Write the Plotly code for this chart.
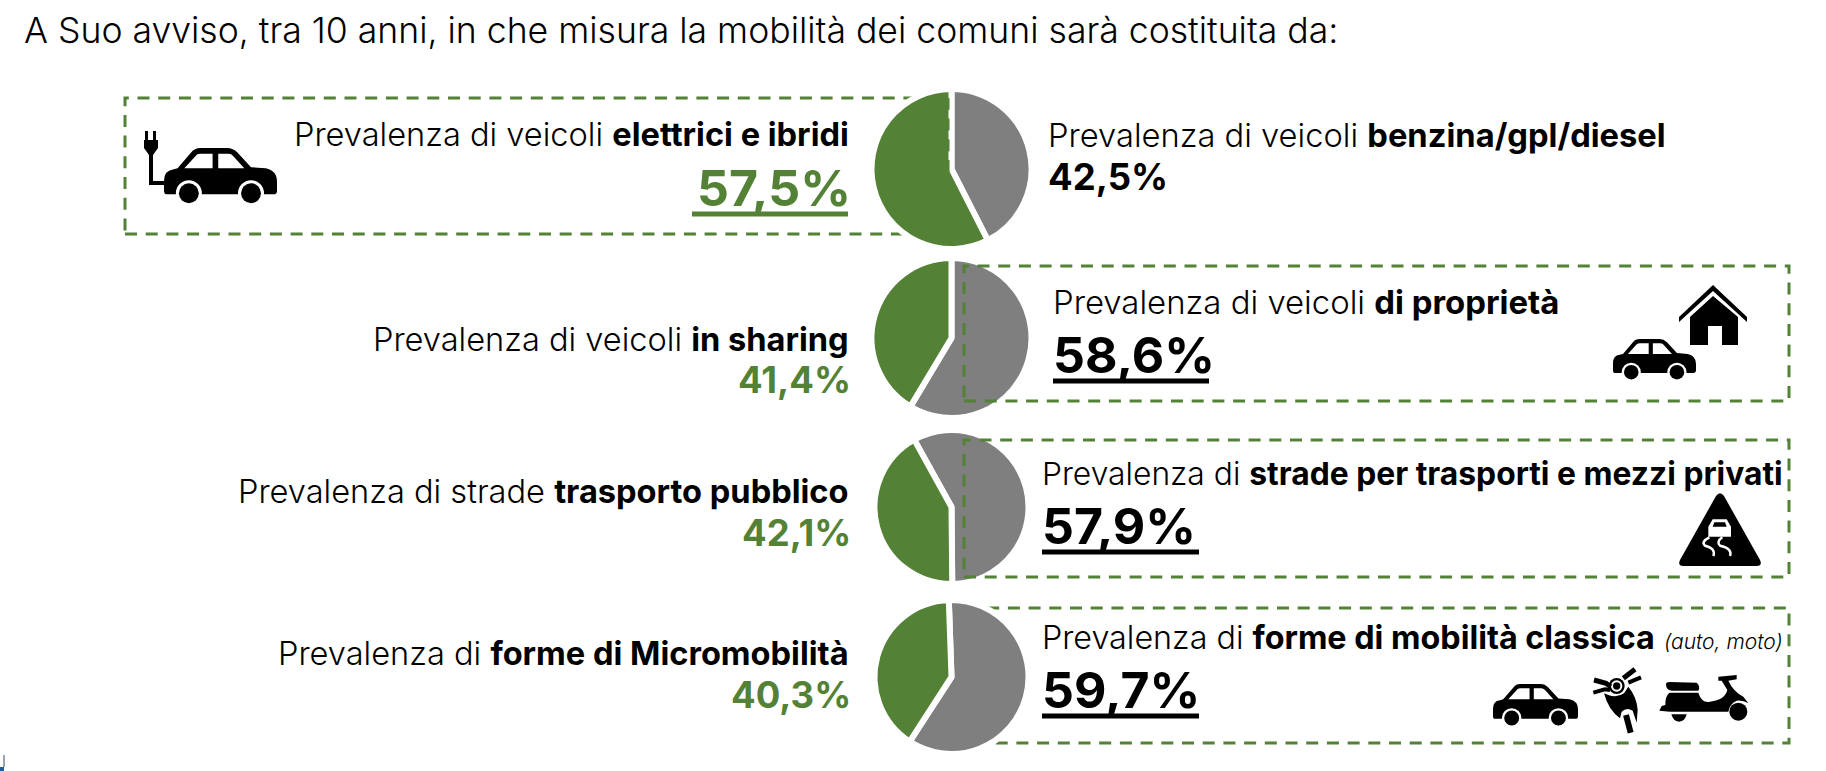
import re
import plotly.graph_objects as go

W, H = 1826, 771
FONT = "Inter"
GREEN = "#538135"
GRAY = "#7F7F7F"

# ---- data ----
green_values = [57.5, 41.4, 42.1, 40.3]
gray_values = [42.5, 58.6, 57.9, 59.7]
left_plain = ["Prevalenza di veicoli ", "Prevalenza di veicoli ", "Prevalenza di strade ", "Prevalenza di "]
left_bold = ["elettrici e ibridi", "in sharing", "trasporto pubblico", "forme di Micromobilità"]
right_plain = ["Prevalenza di veicoli ", "Prevalenza di veicoli ", "Prevalenza di ", "Prevalenza di "]
right_bold = ["benzina/gpl/diesel", "di proprietà", "strade per trasporti e mezzi privati", "forme di mobilità classica"]
title_text = "A Suo avviso, tra 10 anni, in che misura la mobilità dei comuni sarà costituita da:"

# ---- layout constants (pixels) ----
pie_cx = [951.5, 951.5, 951.5, 951.5]
pie_cy = [169, 338, 507, 677]
pie_r = [80, 80, 77, 77]
pie_rot = [0, 0, -29, -2]
left_y = [134, 339, 491, 653]
left_pct_y = [188, 380, 533, 695]
right_x = [1046, 1051, 1040, 1040]
right_y = [135, 302, 473, 637]
right_pct_y = [177, 355, 526, 690]
right_size = [32.7, 32.9, 31.8, 32.3]
LEFT_RIGHT_EDGE = 851
PCT_RIGHT_EDGE = 853


def px(x):
    return x / W


def py(y):
    return 1 - y / H


def pct(v):
    return f"{v:.1f}%".replace(".", ",")


def path(d, ox=0, oy=0, s=1.0):
    toks = re.findall(r"[A-Za-z]|-?[\d.]+", d)
    out, i = [], 0
    while i < len(toks):
        t = toks[i]
        if t.isalpha():
            out.append(t)
            i += 1
        else:
            x, y = float(toks[i]), float(toks[i + 1])
            out.append(f"{px(ox + x * s):.5f},{py(oy + y * s):.5f}")
            i += 2
    return " ".join(out)


shapes = []


def fill(d, ox=0, oy=0, s=1.0, color="black", layer="above"):
    shapes.append(dict(type="path", xref="paper", yref="paper", path=path(d, ox, oy, s),
                       fillcolor=color, line=dict(width=0), layer=layer))


def stroke(d, ox=0, oy=0, s=1.0, color="white", width=2.5):
    shapes.append(dict(type="path", xref="paper", yref="paper", path=path(d, ox, oy, s),
                       line=dict(color=color, width=width), layer="above"))


def circle(cx, cy, r, color):
    shapes.append(dict(type="circle", xref="paper", yref="paper", x0=px(cx - r), x1=px(cx + r),
                       y0=py(cy + r), y1=py(cy - r), fillcolor=color, line=dict(width=0), layer="above"))


DASH = dict(color=GREEN, width=3, dash="12px,8.7px")


def rect_lines(x0, y0, x1, y1, layer):
    shapes.append(dict(type="rect", xref="paper", yref="paper", x0=px(x0), x1=px(x1), y0=py(y1), y1=py(y0),
                       line=DASH, fillcolor="rgba(0,0,0,0)", layer=layer))


def underline(x0, x1, y, color, width=5):
    shapes.append(dict(type="line", xref="paper", yref="paper", x0=px(x0), x1=px(x1), y0=py(y), y1=py(y),
                       line=dict(color=color, width=width), layer="above"))


def car(ox, oy, s):
    fill("M 2 41 Q 0 41 0 37 L 0 29 Q 0 20 8 19 L 12 18 L 24 4 Q 27 0 32 0 L 56 0 Q 61 0 65 4 "
         "L 77 17 L 90 18 Q 100 20 100 30 L 100 38 Q 100 41 97 41 Z "
         "M 18 18 L 28 7 Q 29 5 32 5 L 43 5 L 43 18 Z "
         "M 48 5 L 57 5 Q 60 5 62 8 L 71 18 L 48 18 Z", ox, oy, s)
    for wx in (22, 77):
        circle(ox + wx * s, oy + 40 * s, 11.5 * s, "white")
        circle(ox + wx * s, oy + 40 * s, 8.8 * s, "black")


# dashed frames
rect_lines(125, 98, 949, 234, "below")
rect_lines(964, 266, 1789, 401, "above")
rect_lines(964, 440, 1789, 577, "above")
rect_lines(975, 608, 1789, 743, "below")
shapes.append(dict(type="line", xref="paper", yref="paper", x0=px(948.5), x1=px(948.5), y0=py(234), y1=py(98),
                   line=dict(color=GREEN, width=2, dash="12px,8.7px"), layer="above"))

# underlines
underline(692, 848, 214, GREEN)
underline(1053, 1209, 381, "black")
underline(1042, 1199, 552, "black")
underline(1042, 1199, 716, "black")

# electric car with plug
car(164, 148, 1.13)
fill("M 145 131 L 148 131 L 148 140 L 153 140 L 153 131 L 156 131 L 156 140 L 158 140 L 158 148 "
     "L 153 155 L 153 181 L 168 181 L 168 185 L 149 185 L 149 155 L 144 148 L 144 140 L 145 140 Z")

# car + house
car(1613, 339, 0.83)
fill("M 1679 317 L 1713 285 L 1747 317 L 1747 322 L 1713 291 L 1679 322 Z")
fill("M 1713 296 L 1690 317 L 1690 345 L 1708 345 L 1708 326 L 1722 326 L 1722 345 L 1738 345 L 1738 317 Z")

# slippery-road sign (local units = zoom px)
SZ, SX, SY = 1 / 3, 1660, 480
fill("M 168 48 Q 180 32 192 48 L 300 240 Q 308 258 290 258 L 70 258 Q 52 258 60 240 Z", SX, SY, SZ)
fill("M 145 140 L 158 118 L 200 118 L 213 140 L 213 170 L 145 170 Z M 163 127 L 195 127 L 200 140 L 158 140 Z",
     SX, SY, SZ, color="white")
stroke("M 148 172 Q 122 185 135 197 Q 168 205 160 228", SX, SY, SZ)
stroke("M 187 172 Q 168 185 180 197 Q 218 205 210 228", SX, SY, SZ)

# car, motorbike, scooter (local units = zoom px)
MZ, MX, MY = 1 / 3, 1480, 660
car(1493, 684, 0.85)
fill("M 372 100 L 385 105 Q 410 115 432 100 L 445 80 Q 470 110 473 150 L 470 188 L 458 152 "
     "Q 440 140 425 155 L 420 175 Q 385 150 372 100 Z", MX, MY, MZ)
circle(MX + 410 * MZ, MY + 78 * MZ, 24 * MZ, "black")
circle(MX + 410 * MZ, MY + 78 * MZ, 17 * MZ, "white")
circle(MX + 410 * MZ, MY + 78 * MZ, 11 * MZ, "black")
stroke("M 438 165 L 452 218", MX, MY, MZ, color="black", width=6)
stroke("M 342 60 L 378 70 L 392 80", MX, MY, MZ, color="black", width=5)
stroke("M 340 98 L 375 88 L 390 90", MX, MY, MZ, color="black", width=4)
stroke("M 430 55 L 465 28", MX, MY, MZ, color="black", width=5)
stroke("M 445 68 L 483 52", MX, MY, MZ, color="black", width=4)
fill("M 558 72 Q 558 66 570 66 L 650 68 Q 662 78 655 92 L 575 92 Q 558 90 558 72 Z", MX, MY, MZ)
fill("M 568 98 L 655 98 Q 665 130 690 125 Q 735 120 742 90 L 725 62 L 715 62 L 715 50 L 770 45 L 770 58 L 745 62 "
     "Q 760 95 790 110 L 805 130 Q 790 120 770 122 Q 750 130 745 155 L 570 155 L 538 152 L 545 138 L 556 135 "
     "Q 555 110 568 98 Z", MX, MY, MZ)
fill("M 574 163 L 620 163 Q 615 185 597 185 Q 580 185 574 163 Z", MX, MY, MZ)
circle(MX + 775 * MZ, MY + 155 * MZ, 27 * MZ, "black")

# stray slide-edge mark at the bottom-left corner
fill("M 0 767 L 4 767 L 4 771 L 0 771 Z", color="#1F5C99")
fill("M 3 755 L 5 755 L 5 767 L 3 767 Z", color="#9AA5AE")

# pies
traces = []
for gv, yv, cx, cy, r, rot in zip(green_values, gray_values, pie_cx, pie_cy, pie_r, pie_rot):
    traces.append(go.Pie(values=[yv, gv], labels=["Altro", "Prevalenza"], sort=False, direction="clockwise",
                         rotation=rot, textinfo="none", hoverinfo="skip", showlegend=False,
                         marker=dict(colors=[GRAY, GREEN], line=dict(color="white", width=6)),
                         domain=dict(x=[px(cx - r), px(cx + r)], y=[py(cy + r), py(cy - r)])))

anns = []


def text(x, y, t, size, color="black", anchor="left", weight=300):
    anns.append(dict(xref="paper", yref="paper", x=px(x), y=py(y), text=t, showarrow=False, xanchor=anchor,
                     yanchor="middle", align=anchor, font=dict(family=FONT, size=size, color=color, weight=weight)))


text(22, 31, title_text, 35.6)
LABEL = 32.6
big = [50, 36.5, 36.5, 36.5]
big_r = [36.5, 50, 50, 50]
for i in range(4):
    text(LEFT_RIGHT_EDGE, left_y[i], f"{left_plain[i]}<b>{left_bold[i]}</b>", LABEL, anchor="right")
    text(PCT_RIGHT_EDGE, left_pct_y[i], f"<b>{pct(green_values[i])}</b>", big[i], GREEN, anchor="right", weight=400)
    extra = " <i><span style='font-size:21px'>(auto, moto)</span></i>" if i == 3 else ""
    text(right_x[i], right_y[i], f"{right_plain[i]}<b>{right_bold[i]}</b>{extra}", right_size[i])
    text(right_x[i], right_pct_y[i], f"<b>{pct(gray_values[i])}</b>", big_r[i], weight=400)

fig = go.Figure(traces)
fig.update_layout(width=W, height=H, margin=dict(l=0, r=0, t=0, b=0), paper_bgcolor="white",
                  plot_bgcolor="white", shapes=shapes, annotations=anns)
fig.write_html("out.html", config=dict(displayModeBar=False),
               post_script="document.body.style.margin='0';document.body.style.overflow='hidden';")
